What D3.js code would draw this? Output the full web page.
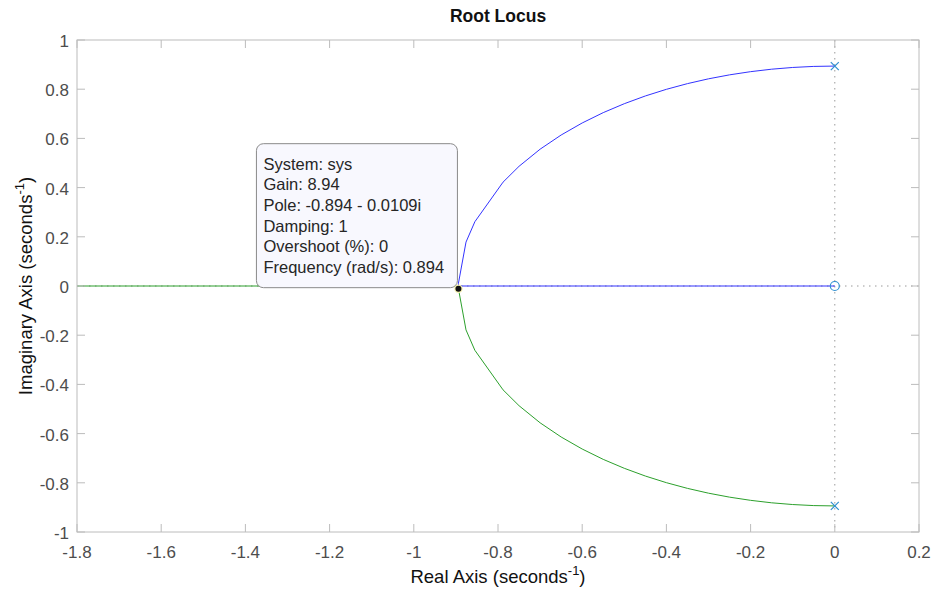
<!DOCTYPE html>
<html>
<head>
<meta charset="utf-8">
<script src="https://cdn.jsdelivr.net/npm/d3@7"></script>
<style>
  html, body { margin: 0; padding: 0; background: #fff; }
  svg { display: block; font-family: "Liberation Sans", Arial, sans-serif; }
</style>
</head>
<body>
<svg id="chart" width="933" height="590"></svg>
<script>
// Root locus of sys: poles at ±0.894j, zero at the origin.
const xTicks = [-1.8, -1.6, -1.4, -1.2, -1, -0.8, -0.6, -0.4, -0.2, 0, 0.2];
const yTicks = [-1, -0.8, -0.6, -0.4, -0.2, 0, 0.2, 0.4, 0.6, 0.8, 1];

// Branch 1 (blue): from the upper pole round to the breakaway, then along the real axis to the zero.
const branch1Re = [0, -0.05, -0.1, -0.15, -0.2, -0.25, -0.3, -0.35, -0.4, -0.45, -0.5, -0.55, -0.6, -0.65, -0.7, -0.75, -0.788, -0.855, -0.876, -0.894, -0.894, -0.6, -0.3, 0];
const branch1Im = [0.894, 0.8926, 0.8884, 0.8813, 0.8713, 0.8583, 0.8422, 0.8226, 0.7995, 0.7725, 0.7411, 0.7048, 0.6627, 0.6138, 0.5561, 0.4866, 0.4222, 0.2612, 0.1785, 0.0109, 0, 0, 0, 0];

// Branch 2 (green): from the lower pole round to the breakaway, then out along the negative real axis.
const branch2Re = [0, -0.05, -0.1, -0.15, -0.2, -0.25, -0.3, -0.35, -0.4, -0.45, -0.5, -0.55, -0.6, -0.65, -0.7, -0.75, -0.788, -0.855, -0.876, -0.894, -0.894, -1.2, -1.6, -2.2];
const branch2Im = [-0.894, -0.8926, -0.8884, -0.8813, -0.8713, -0.8583, -0.8422, -0.8226, -0.7995, -0.7725, -0.7411, -0.7048, -0.6627, -0.6138, -0.5561, -0.4866, -0.4222, -0.2612, -0.1785, -0.0109, 0, 0, 0, 0];

const polesRe = [0, 0];
const polesIm = [0.894, -0.894];
const zerosRe = [0];
const zerosIm = [0];

// Data tip on the selected pole
const tipRe = -0.894, tipIm = -0.0109;
const tipLines = ["System: sys", "Gain: 8.94", "Pole: -0.894 - 0.0109i", "Damping: 1", "Overshoot (%): 0", "Frequency (rad/s): 0.894"];

const svg = d3.select("#chart");
const m = { left: 77, right: 919, top: 40, bottom: 532 };
const x = d3.scaleLinear().domain([-1.8, 0.2]).range([m.left, m.right]);
const y = d3.scaleLinear().domain([-1, 1]).range([m.bottom, m.top]);

const axisColor = "#bcbcbc";
const labelColor = "#4d4d4d";

svg.append("defs").append("clipPath").attr("id", "plotClip")
  .append("rect").attr("x", m.left).attr("y", m.top)
  .attr("width", m.right - m.left).attr("height", m.bottom - m.top);

const plot = svg.append("g").attr("clip-path", "url(#plotClip)");

// dotted lines through the origin
plot.append("line")
  .attr("x1", x(0)).attr("x2", x(0)).attr("y1", y(1)).attr("y2", y(-1))
  .attr("stroke", "#9a9a9a").attr("stroke-width", 1).attr("stroke-dasharray", "1.5,4.5");
plot.append("line")
  .attr("x1", x(-1.8)).attr("x2", x(0.2)).attr("y1", y(0)).attr("y2", y(0))
  .attr("stroke", "#9a9a9a").attr("stroke-width", 1).attr("stroke-dasharray", "1.5,4.5");

const line = d3.line().x(d => x(d[0])).y(d => y(d[1]));
const b1 = branch1Re.map((r, i) => [r, branch1Im[i]]);
const b2 = branch2Re.map((r, i) => [r, branch2Im[i]]);

plot.append("path").datum(b2).attr("d", line)
  .attr("fill", "none").attr("stroke", "#2ca02c").attr("stroke-width", 1);
plot.append("path").datum(b1).attr("d", line)
  .attr("fill", "none").attr("stroke", "#3333ff").attr("stroke-width", 1);

// poles (x) and zero (o)
const mk = "#2f8fd0";
polesRe.forEach((r, i) => {
  const cx = x(r), cy = y(polesIm[i]), s = 4;
  plot.append("path")
    .attr("d", `M${cx - s},${cy - s}L${cx + s},${cy + s}M${cx - s},${cy + s}L${cx + s},${cy - s}`)
    .attr("stroke", mk).attr("stroke-width", 1.2).attr("fill", "none");
});
zerosRe.forEach((r, i) => {
  plot.append("circle").attr("cx", x(r)).attr("cy", y(zerosIm[i])).attr("r", 4.5)
    .attr("fill", "none").attr("stroke", mk).attr("stroke-width", 1.2);
});

// axes frame with ticks on all sides
const tickLen = 8;
const frame = svg.append("g");
frame.append("rect").attr("x", m.left).attr("y", m.top)
  .attr("width", m.right - m.left).attr("height", m.bottom - m.top)
  .attr("fill", "none").attr("stroke", axisColor).attr("stroke-width", 1);

xTicks.forEach(t => {
  const px = x(t);
  frame.append("line").attr("x1", px).attr("x2", px).attr("y1", m.bottom).attr("y2", m.bottom - tickLen)
    .attr("stroke", axisColor);
  frame.append("line").attr("x1", px).attr("x2", px).attr("y1", m.top).attr("y2", m.top + tickLen)
    .attr("stroke", axisColor);
  svg.append("text").attr("x", px).attr("y", m.bottom + 26)
    .attr("text-anchor", "middle").attr("font-size", 17).attr("fill", labelColor)
    .text(String(t));
});
yTicks.forEach(t => {
  const py = y(t);
  frame.append("line").attr("x1", m.left).attr("x2", m.left + tickLen).attr("y1", py).attr("y2", py)
    .attr("stroke", axisColor);
  frame.append("line").attr("x1", m.right).attr("x2", m.right - tickLen).attr("y1", py).attr("y2", py)
    .attr("stroke", axisColor);
  svg.append("text").attr("x", m.left - 8).attr("y", py + 7)
    .attr("text-anchor", "end").attr("font-size", 17).attr("fill", labelColor)
    .text(String(t));
});

// title and axis labels
svg.append("text").attr("x", (m.left + m.right) / 2).attr("y", 22)
  .attr("text-anchor", "middle").attr("font-size", 17.5).attr("font-weight", "bold").attr("fill", "#111")
  .text("Root Locus");

const xl = svg.append("text").attr("x", (m.left + m.right) / 2).attr("y", 583)
  .attr("text-anchor", "middle").attr("font-size", 18.5).attr("fill", "#111");
xl.append("tspan").text("Real Axis (seconds");
xl.append("tspan").attr("dy", -8).attr("font-size", 13).text("-1");
xl.append("tspan").attr("dy", 8).text(")");

const yl = svg.append("text").attr("transform", `translate(32,${(m.top + m.bottom) / 2}) rotate(-90)`)
  .attr("text-anchor", "middle").attr("font-size", 18.5).attr("fill", "#111");
yl.append("tspan").text("Imaginary Axis (seconds");
yl.append("tspan").attr("dy", -8).attr("font-size", 13).text("-1");
yl.append("tspan").attr("dy", 8).text(")");

// data tip
const tx = x(tipRe), ty = y(tipIm);
const boxW = 201, boxH = 144;
const box = svg.append("g");
box.append("rect").attr("x", tx - boxW - 1).attr("y", ty - boxH - 1)
  .attr("width", boxW).attr("height", boxH).attr("rx", 7)
  .attr("fill", "#f8f8fe").attr("stroke", "#8a8a8a").attr("stroke-width", 1);
tipLines.forEach((s, i) => {
  box.append("text").attr("x", tx - boxW + 6).attr("y", ty - boxH + 25 + i * 20.7)
    .attr("font-size", 16.5).attr("fill", "#262626").text(s);
});
svg.append("circle").attr("cx", tx).attr("cy", ty).attr("r", 4.2).attr("fill", "#f5f0b0");
svg.append("circle").attr("cx", tx).attr("cy", ty).attr("r", 3).attr("fill", "#111");
</script>
</body>
</html>
